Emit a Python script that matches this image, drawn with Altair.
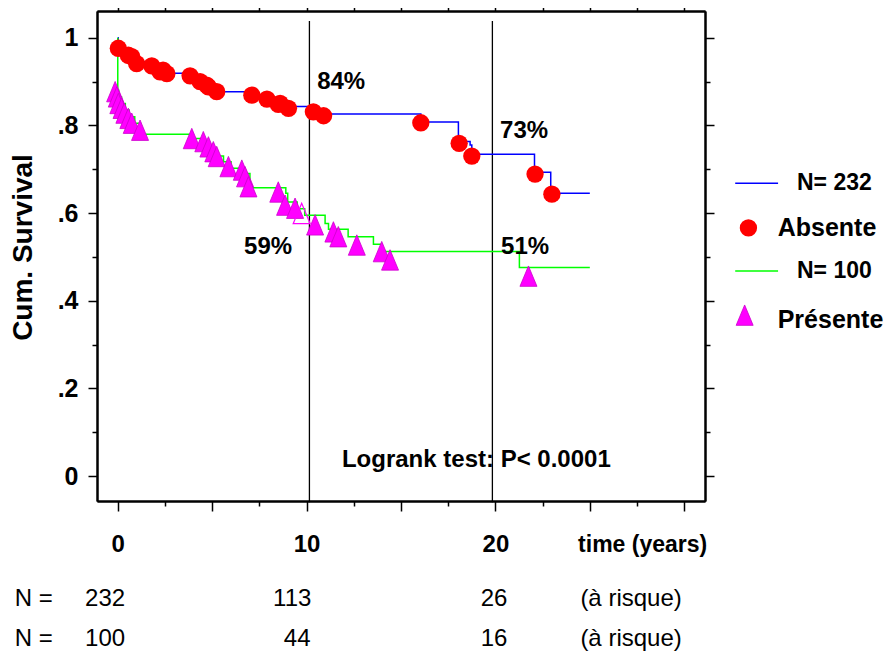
import altair as alt
import pandas as pd

# ---------------- data ----------------
# Kaplan-Meier curve, group "Absente" (N = 232)
abs_time = [0.0, 0.02, 0.5, 1.0, 1.8, 2.3, 3.9, 4.4, 4.8, 5.2, 7.1, 8.0, 8.6, 9.0,
            10.3, 16.05, 18.04, 18.66, 18.75, 22.07, 22.93, 25.0]
abs_surv = [1.0, 0.975, 0.96, 0.945, 0.934, 0.919, 0.911, 0.900, 0.892, 0.877, 0.869,
            0.862, 0.850, 0.843, 0.826, 0.808, 0.763, 0.755, 0.734, 0.693, 0.645, 0.645]
# censored observations (red circles)
abs_cens_time = [0.03, 0.56, 0.74, 1.0, 1.8, 2.24, 2.4, 2.6, 3.83, 4.36, 4.71, 4.8, 5.24,
                 7.1, 7.9, 8.5, 8.6, 9.04, 10.36, 10.9, 16.05, 18.08, 18.75, 22.1, 22.99]
abs_cens_surv = [0.976, 0.96, 0.957, 0.941, 0.936, 0.922, 0.926, 0.918, 0.913, 0.900,
                 0.892, 0.888, 0.877, 0.869, 0.860, 0.848, 0.850, 0.839, 0.831, 0.822,
                 0.806, 0.759, 0.730, 0.689, 0.643]

# Kaplan-Meier curve, group "Présente" (N = 100)
pre_time = [0.0, 0.0, 0.05, 0.2, 0.4, 0.6, 0.9, 1.2, 3.9, 4.4, 4.8, 5.1, 5.3, 5.6, 6.0,
            6.6, 7.0, 8.9, 9.0, 9.5, 9.9, 10.98, 11.16, 12.2, 13.54, 13.98, 21.27, 25.0]
pre_surv = [1.0, 0.88, 0.865, 0.85, 0.835, 0.82, 0.805, 0.78, 0.77, 0.76, 0.75, 0.74,
            0.73, 0.717, 0.702, 0.69, 0.658, 0.645, 0.625, 0.61, 0.595, 0.576, 0.563,
            0.546, 0.529, 0.512, 0.476, 0.476]
# censored observations (magenta triangles)
pre_cens_time = [-0.14, -0.05, 0.03, 0.2, 0.35, 0.56, 0.74, 1.18, 3.92, 4.53, 4.8, 5.06,
                 5.24, 5.86, 6.57, 6.74, 6.92, 8.5, 8.86, 9.39, 10.45, 11.42, 11.68,
                 12.66, 13.98, 14.42, 21.75]
pre_cens_surv = [0.877, 0.865, 0.850, 0.839, 0.828, 0.816, 0.805, 0.789, 0.770, 0.763,
                 0.751, 0.740, 0.729, 0.706, 0.698, 0.683, 0.660, 0.648, 0.618, 0.611,
                 0.573, 0.557, 0.546, 0.527, 0.512, 0.493, 0.456]
pre_open_time = [9.74]
pre_open_surv = [0.599]

# reference lines at 10 and 20 years
ref_time = [10.15, 19.84]

# survival annotations
annot_text = ["84%", "73%", "59%", "51%", "Logrank test: P< 0.0001"]
annot_time = [11.83, 21.52, 7.96, 21.57, 18.99]
annot_surv = [0.899, 0.787, 0.522, 0.522, 0.0365]

# number at risk table
risk_label = "N ="
risk_suffix = "(à risque)"
risk_n_absente = ["232", "113", "26"]
risk_n_presente = ["100", "44", "16"]

# legend
legend_line_labels = ["N= 232", "N= 100"]
legend_symbol_labels = ["Absente", "Présente"]

# ---------------- placement (layout, not data) ----------------
risk_abs_pos = [-0.67, 9.24, 19.93]
risk_pre_pos = [-0.67, 9.5, 19.93]
risk_row_y = [-0.28, -0.372]
label_left_pos = -5.45
suffix_pos = 24.5

FONT = "Liberation Sans, Arial, sans-serif"
BLUE, GREEN, RED, MAGENTA = "#0000ff", "#00ff00", "#ff0000", "#ff00ff"

xs = alt.Scale(domain=[-1.1, 31.1], nice=False, zero=False)
ys = alt.Scale(domain=[-0.057, 1.061], nice=False, zero=False)

major_x = [0, 5, 10, 15, 20, 25, 30]
minor_x = [2.5, 7.5, 12.5, 17.5, 22.5, 27.5]
major_y = [0, 0.2, 0.4, 0.6, 0.8, 1.0]
minor_y = [0.1, 0.3, 0.5, 0.7, 0.9]

common = dict(grid=False, domainColor="black", domainWidth=2, tickColor="black",
              tickWidth=1.5)


def axis(orient, values, size, **kw):
    opts = dict(common)
    opts.update(dict(labels=False, title=None))
    opts.update(kw)
    return alt.Axis(orient=orient, values=values, tickSize=size, **opts)


ax_bottom_major = axis("bottom", major_x, 10, labels=True,
                       labelExpr="(datum.value==0||datum.value==10||datum.value==20) ? datum.label : ''",
                       labelFont=FONT, labelFontSize=24, labelFontWeight="bold",
                       labelColor="black", labelPadding=21, labelFlush=False)
ax_bottom_minor = axis("bottom", minor_x, 5)
ax_top_major = axis("top", major_x, 10)
ax_top_minor = axis("top", minor_x, 5)
ax_left_major = axis("left", major_y, 9, labels=True,
                     labelExpr="datum.value==0 ? '0' : datum.value==1 ? '1' : replace(format(datum.value, '.1f'), '0.', '.')",
                     labelFont=FONT, labelFontSize=25, labelFontWeight="bold",
                     labelColor="black", labelPadding=10, labelFlush=False,
                     title="Cum. Survival", titleFont=FONT, titleFontSize=28,
                     titleFontWeight="bold", titleColor="black", titlePadding=20,
                     titleY=236)
ax_left_minor = axis("left", minor_y, 5)
ax_right_major = axis("right", major_y, 9)
ax_right_minor = axis("right", minor_y, 5)

# ---------------- data frames ----------------
df_abs = pd.DataFrame({"t": abs_time, "s": abs_surv, "i": range(len(abs_time))})
df_pre = pd.DataFrame({"t": pre_time, "s": pre_surv, "i": range(len(pre_time))})
df_abs_c = pd.DataFrame({"t": abs_cens_time, "s": abs_cens_surv})
df_pre_c = pd.DataFrame({"t": pre_cens_time, "s": pre_cens_surv})
df_pre_o = pd.DataFrame({"t": pre_open_time, "s": pre_open_surv})
df_ref = pd.DataFrame({"t": ref_time})
df_annot = pd.DataFrame({"t": annot_time, "s": annot_surv, "txt": annot_text})

df_risk_num = pd.DataFrame({
    "t": risk_abs_pos + risk_pre_pos,
    "s": [risk_row_y[0]] * 3 + [risk_row_y[1]] * 3,
    "txt": risk_n_absente + risk_n_presente})
df_risk_left = pd.DataFrame({
    "t": [label_left_pos, label_left_pos, suffix_pos, suffix_pos],
    "s": [risk_row_y[0], risk_row_y[1], risk_row_y[0], risk_row_y[1]],
    "txt": [risk_label, risk_label, risk_suffix, risk_suffix]})
df_xtitle = pd.DataFrame({"t": [24.38], "s": [-0.157], "txt": ["time (years)"]})

df_leg_lines = pd.DataFrame({"t": [32.7, 32.7], "t2": [34.97, 34.97], "s": [0.668, 0.468],
                             "c": [BLUE, GREEN]})
df_leg_line_txt = pd.DataFrame({"t": [35.97, 35.97], "s": [0.668, 0.468],
                                "txt": legend_line_labels})
df_leg_circle = pd.DataFrame({"t": [33.4], "s": [0.566]})
df_leg_tri = pd.DataFrame({"t": [33.2], "s": [0.367]})
df_leg_sym_txt = pd.DataFrame({"t": [34.95, 34.95], "s": [0.566, 0.356],
                               "txt": legend_symbol_labels})

TRI = "M0,-1.2L1,1.2L-1,1.2Z"


def X(axis_obj=None):
    return alt.X("t:Q", scale=xs, axis=axis_obj)


def Y(axis_obj=None):
    return alt.Y("s:Q", scale=ys, axis=axis_obj)


def text_layer(df, size, bold=True, align="left"):
    return alt.Chart(df).mark_text(font=FONT, fontSize=size,
                                   fontWeight="bold" if bold else "normal",
                                   color="black", align=align,
                                   baseline="middle").encode(x=X(), y=Y(), text="txt:N")


refs = alt.Chart(df_ref).mark_rule(color="black", strokeWidth=1.3).encode(
    x=X(), y=alt.Y(datum=1.038, scale=ys, axis=None), y2=alt.Y2(datum=-0.06))

blue_line = alt.Chart(df_abs).mark_line(interpolate="step-after", color=BLUE,
                                        strokeWidth=1.5).encode(
    x=X(ax_bottom_major), y=Y(ax_left_major), order="i:Q")

green_line = alt.Chart(df_pre).mark_line(interpolate="step-after", color=GREEN,
                                         strokeWidth=1.5).encode(
    x=X(ax_bottom_minor), y=Y(ax_left_minor), order="i:Q")

red_pts = alt.Chart(df_abs_c).mark_point(shape="circle", filled=True, size=300,
                                         color=RED, opacity=1).encode(
    x=X(ax_top_major), y=Y(ax_right_major))

tri_pts = alt.Chart(df_pre_c).mark_point(shape=TRI, filled=True, size=289, fill=MAGENTA,
                                         stroke="#cc00cc", strokeWidth=0.8,
                                         opacity=1).encode(
    x=X(ax_top_minor), y=Y(ax_right_minor))

tri_open = alt.Chart(df_pre_o).mark_point(shape=TRI, filled=False, size=289,
                                          color=MAGENTA, strokeWidth=1.2,
                                          opacity=1).encode(x=X(), y=Y())

annots = text_layer(df_annot, 24, align="center")
xtitle = text_layer(df_xtitle, 23)
risk_num = text_layer(df_risk_num, 24, bold=False, align="center")
risk_left = text_layer(df_risk_left, 24, bold=False)

leg_lines = alt.Chart(df_leg_lines).mark_rule(strokeWidth=1.5).encode(
    x=X(), x2="t2:Q", y=Y(), color=alt.Color("c:N", scale=None))
leg_line_txt = text_layer(df_leg_line_txt, 23)
leg_circle = alt.Chart(df_leg_circle).mark_point(shape="circle", filled=True, size=300,
                                                 color=RED, opacity=1).encode(x=X(), y=Y())
leg_tri = alt.Chart(df_leg_tri).mark_point(shape=TRI, filled=True, size=289,
                                           fill=MAGENTA, stroke="#cc00cc",
                                           strokeWidth=0.8, opacity=1).encode(x=X(), y=Y())
leg_sym_txt = text_layer(df_leg_sym_txt, 25)

chart = alt.layer(
    refs, blue_line, green_line, red_pts, tri_pts, tri_open, annots, xtitle,
    risk_num, risk_left, leg_lines, leg_line_txt, leg_circle, leg_tri, leg_sym_txt
).resolve_axis(x="independent", y="independent").properties(
    width=608, height=490, autosize="none",
    padding={"left": 89, "top": 3, "right": 182, "bottom": 155},
).configure_view(stroke=None).configure(background="white")

chart.save("out.html", embed_options={"renderer": "svg", "actions": False})
